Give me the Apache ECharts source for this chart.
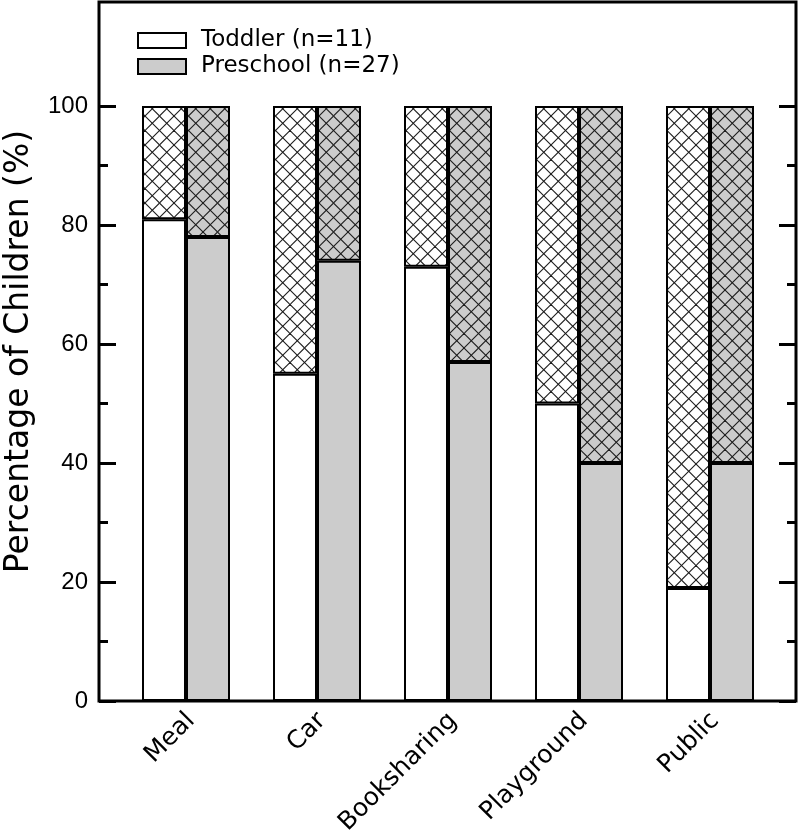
<!DOCTYPE html>
<html>
<head>
<meta charset="utf-8">
<script src="https://cdn.jsdelivr.net/npm/echarts@6/dist/echarts.min.js"></script>
<style>
  html, body { margin: 0; padding: 0; background: #ffffff; }
  #chart { width: 800px; height: 834px; }
</style>
</head>
<body>
<div id="chart"></div>
<script>
// ---- data ----
const categories = ['Meal', 'Car', 'Booksharing', 'Playground', 'Public'];
const toddlerLower = [81, 55, 73, 50, 19];     // plain white part
const toddlerUpper = [19, 45, 27, 50, 81];     // cross-hatched part up to 100
const preschoolLower = [78, 74, 57, 40, 40];   // plain grey part
const preschoolUpper = [22, 26, 43, 60, 60];   // cross-hatched part up to 100
const majorTicks = [0, 20, 40, 60, 80, 100];
const minorTicks = [10, 30, 50, 70, 90];
const toddlerName = 'Toddler (n=11)';
const preschoolName = 'Preschool (n=27)';
const yTitle = 'Percentage of Children (%)';

// ---- cross-hatch patterns ----
function hatch(bg) {
  const s = 29, p = 14.5;
  const c = document.createElement('canvas');
  c.width = s; c.height = s;
  const g = c.getContext('2d');
  g.fillStyle = bg; g.fillRect(0, 0, s, s);
  g.strokeStyle = '#1a1a1a'; g.lineWidth = 1.1;
  for (let k = -3; k <= 3; k++) {
    g.beginPath(); g.moveTo(k * p, 0); g.lineTo(k * p + s, s); g.stroke();
    g.beginPath(); g.moveTo(k * p + s, 0); g.lineTo(k * p, s); g.stroke();
  }
  return { image: c, repeat: 'repeat' };
}
const GREY = '#cccccc';
const hatchWhite = hatch('#ffffff');
const hatchGrey = hatch(GREY);

const YMAX = 117.5;
const tickFont = { fontFamily: 'Liberation Sans', fontSize: 24, color: '#000' };
const rFont = 'DejaVu Sans';

const frameRect = { left: 99, right: 4, top: 2, bottom: 133, outerBoundsMode: 'none', containLabel: false };

const chart = echarts.init(document.getElementById('chart'), null, { renderer: 'canvas' });
chart.setOption({
  animation: false,
  backgroundColor: '#ffffff',
  grid: [
    Object.assign({ show: true, borderColor: '#000', borderWidth: 3, backgroundColor: 'transparent' }, frameRect),
    Object.assign({ show: false }, frameRect),
    { left: 120.5, right: 24.5, top: 2, bottom: 133, show: false, outerBoundsMode: 'none', containLabel: false },
    { left: 125.5, right: 19.5, top: 2, bottom: 133, show: false, outerBoundsMode: 'none', containLabel: false }
  ],
  legend: {
    orient: 'vertical',
    left: 132, top: 24,
    itemWidth: 48, itemHeight: 15, itemGap: 3,
    icon: 'rect',
    data: [toddlerName, preschoolName],
    itemStyle: { borderColor: '#000', borderWidth: 2 },
    textStyle: { fontFamily: rFont, fontSize: 23, color: '#000', padding: [0, 0, 0, 10] }
  },
  xAxis: [
    { gridIndex: 0, type: 'value', min: 0, max: 1, show: false },
    { gridIndex: 1, type: 'value', min: 0, max: 1, show: false },
    {
      gridIndex: 2, type: 'category', data: categories,
      axisLine: { show: false }, axisTick: { show: false }, axisLabel: { show: false }
    },
    {
      gridIndex: 3, type: 'category', data: categories,
      axisLine: { show: false }, axisTick: { show: false },
      axisLabel: { rotate: 45, margin: 16, fontFamily: rFont, fontSize: 25, color: '#000' }
    }
  ],
  yAxis: [
    {
      gridIndex: 0, position: 'left', type: 'value', min: 0, max: YMAX,
      axisLine: { show: false }, splitLine: { show: false },
      axisTick: { show: true, inside: true, length: 17, lineStyle: { color: '#000', width: 3 }, customValues: majorTicks },
      axisLabel: Object.assign({ margin: 11, customValues: majorTicks }, tickFont),
      name: yTitle, nameLocation: 'middle', nameGap: 63,
      nameTextStyle: { fontFamily: rFont, fontSize: 33, color: '#000' }
    },
    {
      gridIndex: 0, position: 'right', type: 'value', min: 0, max: YMAX,
      axisLine: { show: false }, splitLine: { show: false },
      axisTick: { show: true, inside: true, length: 17, lineStyle: { color: '#000', width: 3 }, customValues: majorTicks },
      axisLabel: { show: false }
    },
    {
      gridIndex: 1, position: 'left', type: 'value', min: 0, max: YMAX,
      axisLine: { show: false }, splitLine: { show: false },
      axisTick: { show: true, inside: true, length: 9, lineStyle: { color: '#000', width: 3 }, customValues: minorTicks },
      axisLabel: { show: false }
    },
    {
      gridIndex: 1, position: 'right', type: 'value', min: 0, max: YMAX,
      axisLine: { show: false }, splitLine: { show: false },
      axisTick: { show: true, inside: true, length: 9, lineStyle: { color: '#000', width: 3 }, customValues: minorTicks },
      axisLabel: { show: false }
    },
    { gridIndex: 2, type: 'value', min: 0, max: YMAX, show: false },
    { gridIndex: 3, type: 'value', min: 0, max: YMAX, show: false }
  ],
  series: [
    {
      name: toddlerName, type: 'bar', xAxisIndex: 2, yAxisIndex: 4, stack: 'toddler',
      barWidth: 44, barGap: '0%', data: toddlerLower,
      itemStyle: { color: '#ffffff', borderColor: '#000', borderWidth: 2 }
    },
    {
      name: 'toddler-hatch', type: 'bar', xAxisIndex: 2, yAxisIndex: 4, stack: 'toddler',
      barWidth: 44, barGap: '0%', data: toddlerUpper,
      itemStyle: { color: hatchWhite, borderColor: '#000', borderWidth: 2 }
    },
    {
      name: preschoolName, type: 'bar', xAxisIndex: 2, yAxisIndex: 4, stack: 'preschool',
      barWidth: 44, barGap: '0%', data: preschoolLower,
      itemStyle: { color: GREY, borderColor: '#000', borderWidth: 2 }
    },
    {
      name: 'preschool-hatch', type: 'bar', xAxisIndex: 2, yAxisIndex: 4, stack: 'preschool',
      barWidth: 44, barGap: '0%', data: preschoolUpper,
      itemStyle: { color: hatchGrey, borderColor: '#000', borderWidth: 2 }
    }
  ]
});
</script>
</body>
</html>
